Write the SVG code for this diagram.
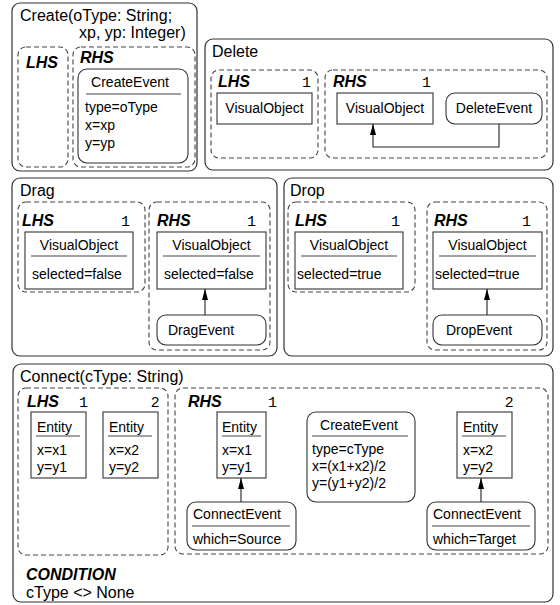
<svg xmlns="http://www.w3.org/2000/svg" width="560" height="605" viewBox="0 0 560 605">
<style>
text{font-family:"Liberation Sans",Arial,sans-serif;fill:#000}
.t{font-size:16px}
.c{font-size:14px}
.h{font-size:16px;font-weight:bold;font-style:italic}
.n{font-family:"Liberation Mono","Courier New",monospace;font-size:15px}
.n2{font-size:15px}
.m{text-anchor:middle}
.rule{fill:#fff;stroke:#333;stroke-width:1.2}
.dash{fill:none;stroke:#444;stroke-width:1.1;stroke-dasharray:5 3}
.obj{fill:#fff;stroke:#333;stroke-width:1.1}
.div{stroke:#444;stroke-width:1.1}
.conn{fill:none;stroke:#222;stroke-width:1.1;marker-end:url(#ah)}
</style>
<defs>
<marker id="ah" viewBox="0 0 6 11" refX="3" refY="0" markerWidth="6" markerHeight="11" orient="0" markerUnits="userSpaceOnUse">
<path d="M3,0 L6,11 L0,11 z" fill="#000"/>
</marker>
</defs>

<!-- Create -->
<g id="create">
<rect class="rule" x="12" y="3" width="185" height="168" rx="8"/>
<text class="t" x="20" y="21">Create(oType: String;</text>
<text class="t" x="79" y="38">xp, yp: Integer)</text>
<rect class="dash" x="18" y="47" width="50" height="120" rx="8"/>
<text class="h" x="26" y="68">LHS</text>
<rect class="dash" x="73" y="47" width="122" height="120" rx="8"/>
<text class="h" x="80" y="63">RHS</text>
<g id="create-createevent">
<rect class="obj" x="78" y="69" width="110" height="94" rx="9"/>
<text class="c m" x="130" y="87">CreateEvent</text>
<line class="div" x1="86" y1="94" x2="181" y2="94"/>
<text class="c" x="85" y="112">type=oType</text>
<text class="c" x="85" y="130">x=xp</text>
<text class="c" x="85" y="148">y=yp</text>
</g>
</g>

<!-- Delete -->
<g id="delete">
<rect class="rule" x="205" y="39" width="348" height="131" rx="8"/>
<text class="t" x="212" y="57">Delete</text>
<rect class="dash" x="211" y="70" width="107" height="88" rx="8"/>
<text class="h" x="218" y="87">LHS</text>
<text class="n" x="302" y="87">1</text>
<rect class="dash" x="325" y="70" width="222" height="88" rx="8"/>
<text class="h" x="333" y="87">RHS</text>
<text class="n" x="422" y="87">1</text>
</g>
<g id="delete-lhs-visualobject">
<rect class="obj" x="217" y="93" width="95" height="31"/>
<text class="c m" x="264.5" y="113">VisualObject</text>
</g>
<g id="delete-rhs-visualobject">
<rect class="obj" x="337" y="93" width="96" height="31"/>
<text class="c m" x="385" y="113">VisualObject</text>
</g>
<g id="delete-deleteevent">
<rect class="obj" x="446" y="93" width="96" height="31" rx="9"/>
<text class="c m" x="494" y="113">DeleteEvent</text>
</g>

<!-- Drag -->
<g id="drag">
<rect class="rule" x="12" y="178" width="265" height="178" rx="8"/>
<text class="t" x="20" y="196">Drag</text>
<rect class="dash" x="18" y="202" width="127" height="90" rx="8"/>
<text class="h" x="22" y="226">LHS</text>
<text class="n" x="121" y="226">1</text>
<rect class="dash" x="149" y="202" width="121" height="148" rx="8"/>
<text class="h" x="157" y="226">RHS</text>
<text class="n" x="247" y="226">1</text>
</g>
<g id="drag-lhs-visualobject">
<rect class="obj" x="25" y="232" width="108" height="57"/>
<text class="c m" x="79" y="250">VisualObject</text>
<line class="div" x1="31" y1="256" x2="127" y2="256"/>
<text class="c" x="32" y="279">selected=false</text>
</g>
<g id="drag-rhs-visualobject">
<rect class="obj" x="157" y="232" width="109" height="57"/>
<text class="c m" x="211.5" y="250">VisualObject</text>
<line class="div" x1="163" y1="256" x2="260" y2="256"/>
<text class="c" x="164" y="279">selected=false</text>
</g>
<g id="drag-dragevent">
<rect class="obj" x="157" y="315" width="109" height="30" rx="9"/>
<text class="c" x="168" y="335">DragEvent</text>
</g>

<!-- Drop -->
<g id="drop">
<rect class="rule" x="284" y="178" width="269" height="178" rx="8"/>
<text class="t" x="290" y="196">Drop</text>
<rect class="dash" x="288" y="202" width="127" height="90" rx="8"/>
<text class="h" x="295" y="226">LHS</text>
<text class="n" x="391" y="226">1</text>
<rect class="dash" x="427" y="202" width="120" height="148" rx="8"/>
<text class="h" x="434" y="226">RHS</text>
<text class="n" x="522" y="226">1</text>
</g>
<g id="drop-lhs-visualobject">
<rect class="obj" x="295" y="232" width="108" height="57"/>
<text class="c m" x="349" y="250">VisualObject</text>
<line class="div" x1="301" y1="256" x2="397" y2="256"/>
<text class="c" x="297" y="279">selected=true</text>
</g>
<g id="drop-rhs-visualobject">
<rect class="obj" x="433" y="232" width="109" height="57"/>
<text class="c m" x="487.5" y="250">VisualObject</text>
<line class="div" x1="439" y1="256" x2="536" y2="256"/>
<text class="c" x="435" y="279">selected=true</text>
</g>
<g id="drop-dropevent">
<rect class="obj" x="433" y="315" width="109" height="30" rx="9"/>
<text class="c" x="446" y="335">DropEvent</text>
</g>

<!-- Connect -->
<g id="connect">
<rect class="rule" x="13" y="364" width="540" height="238" rx="8"/>
<text class="t" x="20" y="382">Connect(cType: String)</text>
<rect class="dash" x="18" y="388" width="150" height="167" rx="8"/>
<text class="h" x="27" y="407">LHS</text>
<text class="n" x="79" y="407">1</text>
<text class="n2" x="151" y="407">2</text>
<rect class="dash" x="175" y="388" width="373" height="166" rx="8"/>
<text class="h" x="188" y="407">RHS</text>
<text class="n" x="268" y="407">1</text>
<text class="n2" x="505" y="407">2</text>
<text class="h" x="26" y="580">CONDITION</text>
<text class="t" x="26" y="598">cType &lt;&gt; None</text>
</g>
<g id="connect-lhs-entity1">
<rect class="obj" x="31" y="412" width="55" height="66"/>
<text class="c" x="37" y="432">Entity</text>
<line class="div" x1="36" y1="436" x2="80" y2="436"/>
<text class="c" x="37" y="455">x=x1</text>
<text class="c" x="37" y="472">y=y1</text>
</g>
<g id="connect-lhs-entity2">
<rect class="obj" x="103" y="412" width="55" height="66"/>
<text class="c" x="109" y="432">Entity</text>
<line class="div" x1="108" y1="436" x2="152" y2="436"/>
<text class="c" x="109" y="455">x=x2</text>
<text class="c" x="109" y="472">y=y2</text>
</g>
<g id="connect-rhs-entity1">
<rect class="obj" x="217" y="412" width="49" height="66"/>
<text class="c" x="222" y="432">Entity</text>
<line class="div" x1="222" y1="436" x2="261" y2="436"/>
<text class="c" x="222" y="455">x=x1</text>
<text class="c" x="222" y="472">y=y1</text>
</g>
<g id="connect-connectevent-source">
<rect class="obj" x="187" y="502" width="109" height="48" rx="9"/>
<text class="c" x="193" y="519">ConnectEvent</text>
<line class="div" x1="192" y1="526" x2="290" y2="526"/>
<text class="c" x="193" y="544">which=Source</text>
</g>
<g id="connect-createevent">
<rect class="obj" x="307" y="412" width="108" height="90" rx="9"/>
<text class="c m" x="359" y="430">CreateEvent</text>
<line class="div" x1="312" y1="436" x2="408" y2="436"/>
<text class="c" x="312" y="454">type=cType</text>
<text class="c" x="312" y="471">x=(x1+x2)/2</text>
<text class="c" x="312" y="488">y=(y1+y2)/2</text>
</g>
<g id="connect-rhs-entity2">
<rect class="obj" x="457" y="412" width="55" height="66"/>
<text class="c" x="463" y="432">Entity</text>
<line class="div" x1="462" y1="436" x2="506" y2="436"/>
<text class="c" x="463" y="455">x=x2</text>
<text class="c" x="463" y="472">y=y2</text>
</g>
<g id="connect-connectevent-target">
<rect class="obj" x="427" y="502" width="108" height="48" rx="9"/>
<text class="c" x="433" y="519">ConnectEvent</text>
<line class="div" x1="432" y1="526" x2="530" y2="526"/>
<text class="c" x="433" y="544">which=Target</text>
</g>

<!-- connectors -->
<g id="connectors">
<path d="M499,124 V147 H373 V124" fill="none" stroke="#222" stroke-width="1.1"/>
<path d="M373,124 l-3,11 h6 z" fill="#000"/>
<line x1="205" y1="315" x2="205" y2="289" stroke="#222" stroke-width="1.1"/>
<path d="M205,289 l-3,11 h6 z" fill="#000"/>
<line x1="487" y1="315" x2="487" y2="289" stroke="#222" stroke-width="1.1"/>
<path d="M487,289 l-3,11 h6 z" fill="#000"/>
<line x1="241" y1="502" x2="241" y2="478" stroke="#222" stroke-width="1.1"/>
<path d="M241,478 l-3,11 h6 z" fill="#000"/>
<line x1="481" y1="502" x2="481" y2="478" stroke="#222" stroke-width="1.1"/>
<path d="M481,478 l-3,11 h6 z" fill="#000"/>
</g>
</svg>
